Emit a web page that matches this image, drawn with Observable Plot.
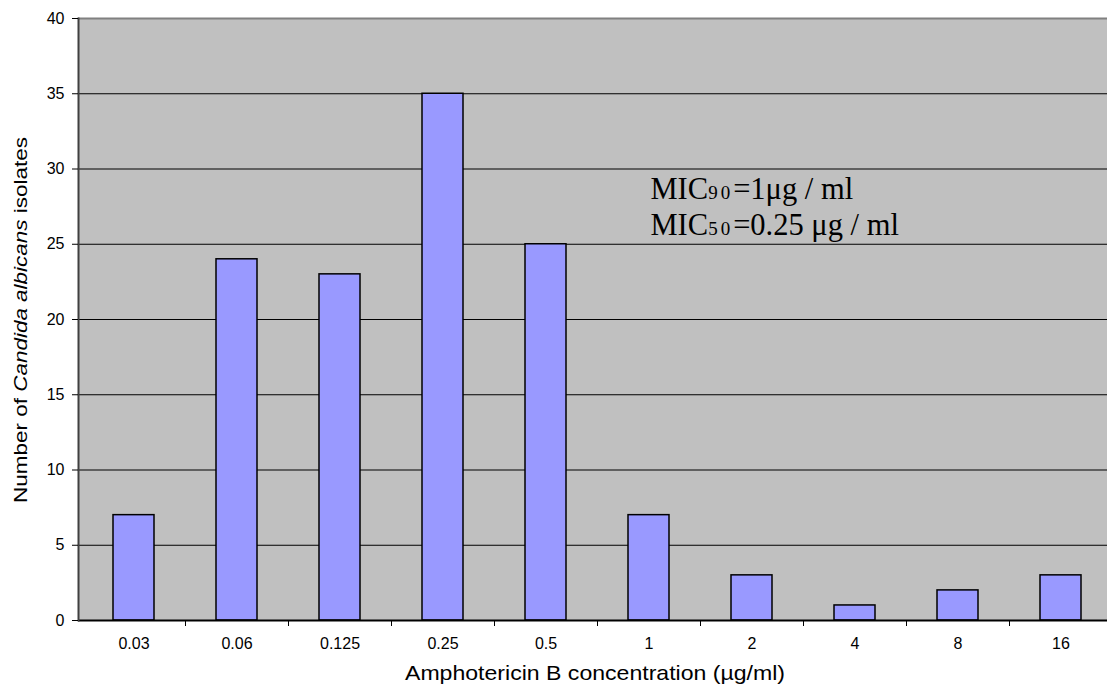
<!DOCTYPE html>
<html><head><meta charset="utf-8">
<script src="https://cdn.jsdelivr.net/npm/d3@7"></script>
<script src="https://cdn.jsdelivr.net/npm/@observablehq/plot@0.6"></script>
<style>html,body{margin:0;padding:0;background:#fff;overflow:hidden;} svg{max-width:none !important;}</style>
</head><body><div id="chart"></div>
<script>
// ---- data ----
const concentrations = ["0.03","0.06","0.125","0.25","0.5","1","2","4","8","16"];
const isolates = [7, 24, 23, 35, 25, 7, 3, 1, 2, 3];
const yTicks = [0, 5, 10, 15, 20, 25, 30, 35, 40];
const yLabelParts = [{t:"Number of ", italic:false}, {t:"Candida albicans", italic:true}, {t:" isolates", italic:false}];
const xLabel = "Amphotericin B concentration (µg/ml)";
const annotation = [
  {main:"MIC", sub:"90", rest:"=1μg / ml", x:"1", y:28.0},
  {main:"MIC", sub:"50", rest:"=0.25 μg / ml", x:"1", y:25.55}
];

const data = concentrations.map((c, i) => ({c, n: isolates[i]}));

// ---- custom render marks ----
function betweenTicks(index, scales, values, dim) {
  const g = d3.create("svg:g");
  const bw = scales.x(concentrations[1]) - scales.x(concentrations[0]);
  const y0 = dim.height - dim.marginBottom;
  concentrations.slice(0, -1).forEach(c => {
    const x = Math.round(scales.x(c) + bw) + 0.5;
    g.append("line").attr("x1", x).attr("x2", x).attr("y1", y0).attr("y2", y0 + 6)
      .attr("stroke", "#000").attr("stroke-width", 1);
  });
  return g.node();
}

function labels(index, scales, values, dim) {
  const g = d3.create("svg:g").attr("font-family", "Liberation Sans, Arial, sans-serif").attr("fill", "#000");
  const cy = (dim.marginTop + dim.height - dim.marginBottom) / 2 + 1;
  const t = g.append("text").attr("transform", `translate(27,${cy}) rotate(-90)`)
    .attr("text-anchor", "middle").attr("font-size", 18.5)
    .attr("textLength", 366).attr("lengthAdjust", "spacingAndGlyphs");
  yLabelParts.forEach(p => t.append("tspan").attr("font-style", p.italic ? "italic" : "normal").text(p.t));
  const cx = 595;
  g.append("text").attr("x", cx).attr("y", 680).attr("text-anchor", "middle")
    .attr("font-size", 21).attr("textLength", 380).attr("lengthAdjust", "spacingAndGlyphs").text(xLabel);
  return g.node();
}

function annot(index, scales, values, dim) {
  const g = d3.create("svg:g").attr("font-family", "Liberation Serif, Times New Roman, serif")
    .attr("fill", "#000").attr("text-anchor", "start");
  const bw = scales.x(concentrations[1]) - scales.x(concentrations[0]);
  annotation.forEach(a => {
    const t = g.append("text").attr("x", scales.x(a.x) + bw / 2 + 2).attr("y", scales.y(a.y))
      .attr("font-size", 30.5).attr("text-anchor", "start");
    t.append("tspan").text(a.main);
    t.append("tspan").attr("font-size", 19).attr("letter-spacing", "3px").text(a.sub);
    t.append("tspan").text(a.rest);
  });
  return g.node();
}

const chart = Plot.plot({
  width: 1115,
  height: 685,
  marginLeft: 78,
  marginRight: 0,
  marginTop: 18,
  marginBottom: 65,
  style: {fontFamily: "Liberation Sans, Arial, sans-serif", color: "#000", background: "#fff", overflow: "visible", maxWidth: "none"},
  x: {type: "band", domain: concentrations, padding: 0, label: null},
  y: {domain: [0, 40], label: null},
  marks: [
    Plot.frame({fill: "#c0c0c0", stroke: null}),
    Plot.gridY(yTicks.filter(t => t > 0 && t < 40), {stroke: "#000", strokeOpacity: 1, strokeWidth: 1}),
    Plot.ruleY([40], {stroke: "#808080", strokeWidth: 2}),
    Plot.barY(data, {x: "c", y: "n", fill: "#9999ff", stroke: "#000", strokeWidth: 1.5, insetLeft: 31, insetRight: 31}),
    Plot.ruleY([0], {stroke: "#000", strokeWidth: 2}),
    Plot.frame({anchor: "left", stroke: "#404040", strokeWidth: 2}),
    Plot.axisY(yTicks, {tickSize: 6, tickPadding: 8, fontSize: 16, stroke: "#000", label: null}),
    Plot.axisX({tickSize: 0, tickPadding: 17, fontSize: 16, label: null}),
    betweenTicks,
    annot,
    labels
  ]
});
chart.style.maxWidth = "none";
document.getElementById("chart").appendChild(chart);
</script>
</body></html>
